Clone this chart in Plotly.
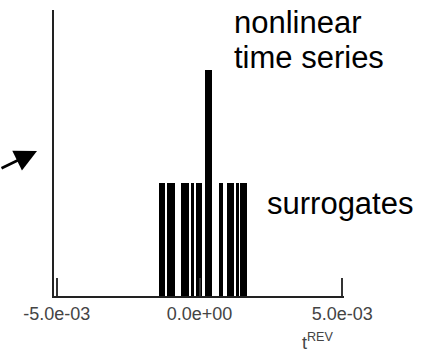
import plotly.graph_objects as go

# Histogram of t_REV (units of 1e-3): bin edges and counts
bin_left = [-1.411, -1.131, -0.651, -0.291, -0.126, 0.189, 0.669, 0.949, 1.275, 1.415]
bin_right = [-1.201, -0.872, -0.382, -0.196, 0.084, 0.445, 0.809, 1.215, 1.369, 1.649]
counts = [1, 1, 1, 1, 1, 2, 1, 1, 1, 1]

tick_vals = [-5.0, 0.0, 5.0]
tick_text = ["-5.0e-03", "0.0e+00", "5.0e-03"]

centers = [(a + b) / 2 * 1e-3 for a, b in zip(bin_left, bin_right)]
widths = [(b - a) * 1e-3 for a, b in zip(bin_left, bin_right)]

fig = go.Figure()
fig.add_trace(go.Bar(x=centers, y=counts, width=widths,
                     marker=dict(color="black", line=dict(width=0)),
                     showlegend=False))

fig.update_layout(
    width=431, height=352,
    margin=dict(l=54, r=87, t=10, b=56),
    paper_bgcolor="white", plot_bgcolor="white",
    font=dict(family="Liberation Sans, Arial, sans-serif", color="black"),
    bargap=0,
    xaxis=dict(range=[-5.1e-3, 5.06e-3], showgrid=False, zeroline=False,
               showline=True, linecolor="#222", linewidth=2,
               tickmode="array", tickvals=[v * 1e-3 for v in tick_vals], ticktext=tick_text,
               ticks="inside", ticklen=18, tickwidth=2, tickcolor="#333",
               tickfont=dict(size=18, color="#444")),
    yaxis=dict(range=[0, 2.53], showgrid=False, zeroline=False,
               showline=True, linecolor="#222", linewidth=2,
               showticklabels=False, ticks=""),
)

fig.add_annotation(text="t<sup>REV</sup>", xref="paper", yref="paper",
                   x=(318 - 54) / 290, y=(296 - 341) / 286, showarrow=False,
                   font=dict(size=18, color="#444"), xanchor="center", yanchor="middle")
fig.add_annotation(text="nonlinear", xref="paper", yref="paper",
                   x=(232 - 54) / 290, y=(296 - 23) / 286, showarrow=False,
                   font=dict(size=31), xanchor="left", yanchor="middle")
fig.add_annotation(text="time series", xref="paper", yref="paper",
                   x=(232 - 54) / 290, y=(296 - 58) / 286, showarrow=False,
                   font=dict(size=31), xanchor="left", yanchor="middle")
fig.add_annotation(text="surrogates", xref="paper", yref="paper",
                   x=(265 - 54) / 290, y=(296 - 203) / 286, showarrow=False,
                   font=dict(size=31), xanchor="left", yanchor="middle")
fig.add_annotation(text="", xref="paper", yref="paper",
                   x=(37 - 54) / 290, y=(296 - 151) / 286,
                   showarrow=True, ax=-45, ay=18, arrowhead=2, arrowsize=1.7,
                   arrowwidth=2.6, arrowcolor="black")

fig.write_html("out.html")
